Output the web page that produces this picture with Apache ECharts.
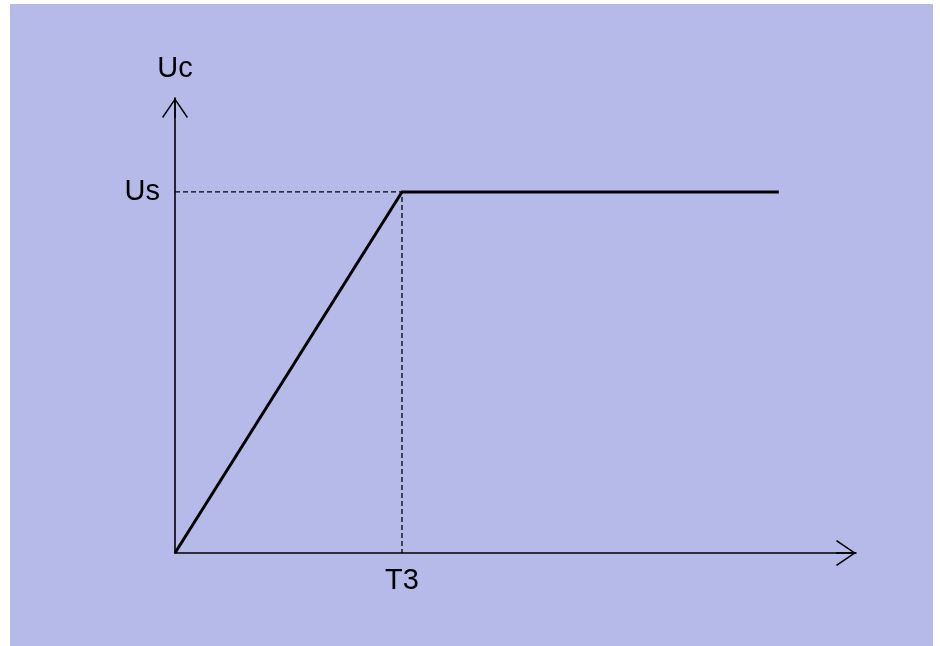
<!DOCTYPE html>
<html>
<head>
<meta charset="utf-8">
<script src="https://cdn.jsdelivr.net/npm/echarts@6/dist/echarts.min.js"></script>
<style>
  html, body { margin: 0; padding: 0; background: #fff; }
  #chart { position: absolute; left: 10px; top: 4px; width: 923px; height: 642px; background: #b5bae8; }
</style>
</head>
<body>
<div id="chart"></div>
<script>
// time axis (T3 = 1 unit) and capacitor voltage (Us = 1 unit)
const timeValues = [0, 1, 2.66]
const ucValues = [0, 1, 1]
const t3 = 1
const us = 1
const xMax = 3
const yMax = 1.26

const font = '"Liberation Sans", Arial, sans-serif'
// open chevron arrow head, pointing up, with a stem
const arrowPath = 'path://M13,0 L26,19 L24.8,20 L13,2.6 L1.2,20 L0,19 Z M12.3,0 L13.7,0 L13.7,20 L12.3,20 Z'

const axisLineCommon = {
    lineStyle: { color: '#000', width: 1.6 },
    symbol: ['none', arrowPath],
    symbolSize: [26, 20],
    symbolOffset: [0, -10]
}

const chart = echarts.init(document.getElementById('chart'))
chart.setOption({
    animation: false,
    grid: { left: 165, right: 77, top: 94, bottom: 93 },
    xAxis: {
        type: 'value',
        min: 0,
        max: xMax,
        splitLine: { show: false },
        axisTick: { show: false },
        axisLine: axisLineCommon,
        axisLabel: {
            customValues: [t3],
            formatter: () => 'T3',
            color: '#000',
            fontSize: 29,
            fontFamily: font,
            margin: 13
        }
    },
    yAxis: {
        type: 'value',
        min: 0,
        max: yMax,
        name: 'Uc',
        nameLocation: 'end',
        nameGap: 15,
        nameTextStyle: { color: '#000', fontSize: 29, fontFamily: font },
        splitLine: { show: false },
        axisTick: { show: false },
        axisLine: axisLineCommon,
        axisLabel: {
            customValues: [us],
            formatter: () => 'Us',
            color: '#000',
            fontSize: 29,
            fontFamily: font,
            margin: 15
        }
    },
    series: [
        {
            type: 'line',
            data: [[0, us], [t3, us], [t3, 0]],
            symbol: 'none',
            silent: true,
            lineStyle: { color: '#000', width: 1.3, type: [5, 3] },
            z: 1
        },
        {
            type: 'line',
            data: timeValues.map((t, i) => [t, ucValues[i]]),
            symbol: 'none',
            silent: true,
            lineStyle: { color: '#000', width: 3, join: 'miter' },
            z: 3
        }
    ]
})
</script>
</body>
</html>
